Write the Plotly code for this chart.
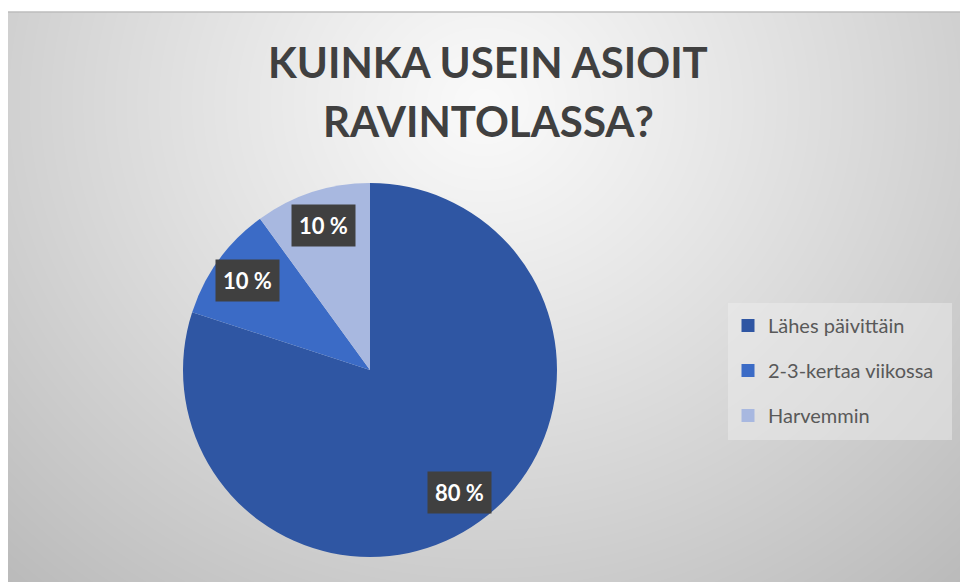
import base64
import struct
import zlib

import numpy as np
import plotly.graph_objects as go

# ---- data ----
categories = ["Lähes päivittäin", "2-3-kertaa viikossa", "Harvemmin"]
shares = [80, 10, 10]
slice_colors = ["#2F56A3", "#3B6BC6", "#A8B8E0"]
title_lines = ["KUINKA USEIN ASIOIT", "RAVINTOLASSA?"]

W, H = 960, 582
# chart area (white strip on the top and left)
AREA_X0, AREA_Y0 = 8, 12

# pie geometry in pixels
PIE_CX, PIE_CY, PIE_R = 370, 370, 187
LABEL_FRAC = 0.81

FONT = "Lato, 'Open Sans', sans-serif"


def gradient_png(w, h):
    """Radial white-to-grey background, encoded as a PNG data URI."""
    yy, xx = np.mgrid[0:h, 0:w].astype(float)
    cx, cy = w * 0.50, h * 0.16
    d = np.sqrt(((xx - cx) / (w * 0.62)) ** 2 + ((yy - cy) / (h * 0.95)) ** 2)
    v = 250 - 52 * np.clip(d, 0, 1.2) ** 1.1
    img = np.clip(v, 0, 255).astype(np.uint8)
    raw = b"".join(b"\x00" + img[r].tobytes() for r in range(h))

    def chunk(tag, data):
        c = struct.pack(">I", len(data)) + tag + data
        return c + struct.pack(">I", zlib.crc32(tag + data) & 0xFFFFFFFF)

    png = b"\x89PNG\r\n\x1a\n"
    png += chunk(b"IHDR", struct.pack(">IIBBBBB", w, h, 8, 0, 0, 0, 0))
    png += chunk(b"IDAT", zlib.compress(raw, 9))
    png += chunk(b"IEND", b"")
    return "data:image/png;base64," + base64.b64encode(png).decode()


fig = go.Figure()

fig.add_trace(go.Pie(
    labels=categories,
    values=shares,
    sort=False,
    direction="clockwise",
    rotation=0,
    marker=dict(colors=slice_colors, line=dict(width=0)),
    textinfo="none",
    hoverinfo="label+percent",
    showlegend=False,
    domain=dict(
        x=[(PIE_CX - PIE_R) / W, (PIE_CX + PIE_R) / W],
        y=[(H - PIE_CY - PIE_R) / H, (H - PIE_CY + PIE_R) / H],
    ),
))

# legend entries with square swatches
for name, col in zip(categories, slice_colors):
    fig.add_trace(go.Scatter(
        x=[None], y=[None], mode="markers", name=name, legendgroup=name,
        marker=dict(symbol="square", size=13, color=col),
        hoverinfo="skip",
    ))

# value labels in dark boxes, placed along each slice's mid-angle
total = float(sum(shares))
annotations = []
cum = 0.0
for v in shares:
    mid = (cum + v / 2) / total * 2 * np.pi
    cum += v
    px = PIE_CX + np.sin(mid) * PIE_R * LABEL_FRAC
    py = PIE_CY - np.cos(mid) * PIE_R * LABEL_FRAC
    annotations.append(dict(
        x=px / W, y=1 - py / H, xref="paper", yref="paper",
        xanchor="center", yanchor="middle",
        text=f"<b>{v} %</b>", showarrow=False,
        font=dict(family=FONT, size=22, color="#FFFFFF"),
        bgcolor="#404040", borderpad=7,
    ))

# two-line title
for line, top in zip(title_lines, [35, 94]):
    annotations.append(dict(
        x=488 / W, y=1 - top / H, xref="paper", yref="paper",
        xanchor="center", yanchor="top",
        text=f"<b>{line}</b>", showarrow=False,
        font=dict(family=FONT, size=42, color="#404040"),
    ))

fig.update_layout(
    width=W, height=H, autosize=False,
    margin=dict(l=0, r=0, t=0, b=0),
    paper_bgcolor="#FFFFFF",
    plot_bgcolor="rgba(0,0,0,0)",
    xaxis=dict(visible=False),
    yaxis=dict(visible=False),
    images=[dict(
        source=gradient_png(W - AREA_X0, H - AREA_Y0),
        xref="paper", yref="paper",
        x=AREA_X0 / W, y=1 - AREA_Y0 / H,
        sizex=(W - AREA_X0) / W, sizey=(H - AREA_Y0) / H,
        xanchor="left", yanchor="top", sizing="stretch", layer="below",
    )],
    shapes=[
        dict(
            type="line", xref="paper", yref="paper",
            x0=AREA_X0 / W, x1=1, y0=1 - AREA_Y0 / H, y1=1 - AREA_Y0 / H,
            line=dict(color="#BDBDBD", width=1.5),
        ),
        # legend panel
        dict(
            type="rect", xref="paper", yref="paper", layer="below",
            x0=728 / W, x1=952 / W, y0=1 - 440 / H, y1=1 - 303 / H,
            fillcolor="rgba(240,240,240,0.45)", line=dict(width=0),
        ),
    ],
    legend=dict(
        x=728 / W, y=1 - 306 / H, xanchor="left", yanchor="top",
        bgcolor="rgba(0,0,0,0)", borderwidth=0,
        traceorder="grouped", tracegroupgap=16, itemwidth=30,
        font=dict(family=FONT, size=20, color="#595959"),
    ),
    annotations=annotations,
    showlegend=True,
)

fig.write_html("out.html")
